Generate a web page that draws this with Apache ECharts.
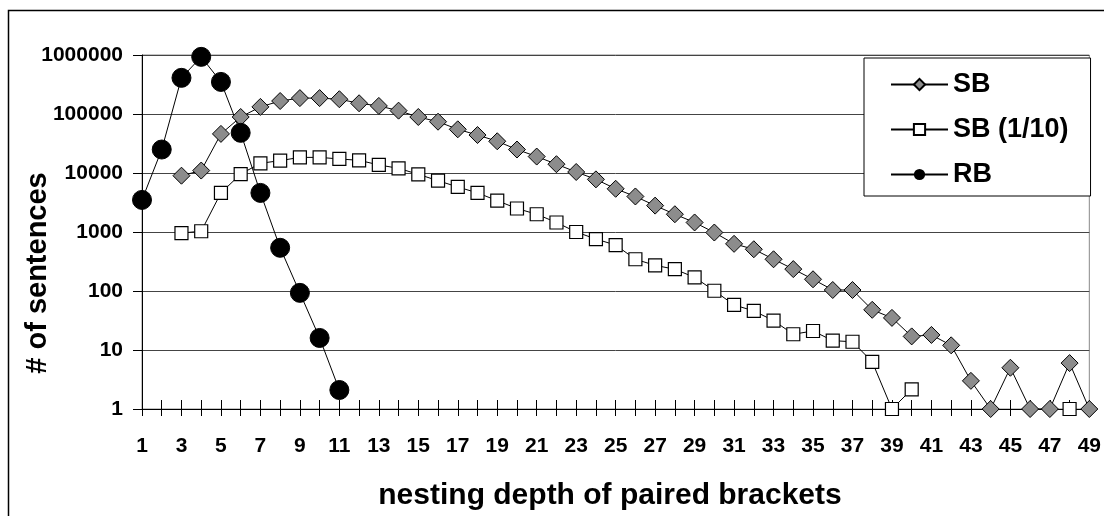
<!DOCTYPE html>
<html>
<head>
<meta charset="utf-8">
<script src="https://cdn.jsdelivr.net/npm/echarts@6/dist/echarts.min.js"></script>
<style>
  html, body { margin: 0; padding: 0; background: #fff; }
  #chart { width: 1104px; height: 516px; }
</style>
</head>
<body>
<div id="chart"></div>
<script>
// nesting depth 1..49
var depth = [];
for (var d = 1; d <= 49; d++) depth.push(String(d));

// SB, depth 1..49
var sbData = [null, null, 9000, 11000, 46000, 89000, 132000, 166000, 186000, 186000,
  178000, 152000, 137000, 114000, 89000, 74000, 55000, 44000, 34500, 25000,
  19000, 14100, 10400, 7800, 5400, 4000, 2800, 2000, 1450, 980,
  630, 510, 345, 235, 158, 104, 104, 48, 35, 17,
  18, 12, 3, 1, 5, 1, 1, 6, 1];

// SB (1/10)
var sb10Data = [null, null, 960, 1030, 4600, 9600, 14600, 16200, 18400, 18400,
  17300, 16400, 13700, 12000, 9500, 7400, 5800, 4600, 3400, 2500,
  2000, 1450, 1000, 760, 600, 345, 272, 234, 170, 101,
  58, 46, 31.5, 18.5, 21, 14.4, 13.8, 6.3, 1, 2.15,
  null, null, null, null, null, null, null, 1, null];

// RB
var rbData = [3500, 25000, 410000, 930000, 350000, 48000, 4600, 540, 93, 16, 2.1];

var yTicks = [1, 10, 100, 1000, 10000, 100000, 1000000];

var font = '"Liberation Sans", Arial, sans-serif';

var chart = echarts.init(document.getElementById('chart'));
chart.setOption({
  animation: false,
  backgroundColor: '#fff',
  textStyle: { fontFamily: font },
  grid: {
    left: 142, right: 8, top: 55, bottom: 107,
    show: true, borderColor: '#888', borderWidth: 1
  },
  legend: {
    orient: 'vertical',
    left: 864, top: 58,
    padding: [13, 22, 8, 26],
    itemGap: 18,
    itemWidth: 57,
    itemHeight: 14,
    borderColor: '#000',
    borderWidth: 1,
    backgroundColor: '#fff',
    textStyle: { fontSize: 27, fontWeight: 'bold', color: '#000', fontFamily: font, lineHeight: 26 },
    data: ['SB', 'SB (1/10)', 'RB']
  },
  xAxis: [{
    type: 'category',
    data: depth,
    boundaryGap: false,
    axisLine: { lineStyle: { color: '#000', width: 1 } },
    axisTick: { interval: 0, length: 7, lineStyle: { color: '#000' } },
    axisLabel: {
      interval: 1, margin: 27, fontSize: 21, fontWeight: 'bold', color: '#000', fontFamily: font
    },
    splitLine: { show: false }
  }, {
    type: 'category',
    data: depth,
    boundaryGap: false,
    position: 'bottom',
    axisLine: { show: false },
    axisTick: { interval: 0, inside: true, length: 9, lineStyle: { color: '#000' } },
    axisLabel: { show: false },
    splitLine: { show: false }
  }],
  yAxis: {
    type: 'log',
    logBase: 10,
    min: yTicks[0],
    max: yTicks[yTicks.length - 1],
    axisLine: { show: true, lineStyle: { color: '#000' } },
    axisTick: { show: true, length: 9, lineStyle: { color: '#000' } },
    axisLabel: {
      margin: 19, fontSize: 21, fontWeight: 'bold', color: '#000', fontFamily: font,
      formatter: function (v) { return String(Math.round(v)); }
    },
    splitLine: { show: true, lineStyle: { color: '#444', width: 1 } }
  },
  graphic: [
    {
      type: 'rect', silent: true, z: -1,
      shape: { x: 8.5, y: 10.5, width: 1120, height: 540 },
      style: { fill: 'none', stroke: '#000', lineWidth: 1.5 }
    },
    {
      type: 'text', x: 38, y: 273, rotation: Math.PI / 2,
      style: {
        text: '# of sentences', font: 'bold 29px ' + font, fill: '#000',
        align: 'center', verticalAlign: 'middle'
      }
    },
    {
      type: 'text', x: 610, y: 496,
      style: {
        text: 'nesting depth of paired brackets', font: 'bold 30px ' + font, fill: '#000',
        align: 'center', verticalAlign: 'middle'
      }
    }
  ],
  series: [
    {
      name: 'SB', type: 'line', data: sbData,
      symbol: 'diamond', symbolSize: 17, showAllSymbol: true,
      itemStyle: { color: '#8c8c8c', borderColor: '#000', borderWidth: 1 },
      lineStyle: { color: '#000', width: 1 },
      connectNulls: false
    },
    {
      name: 'SB (1/10)', type: 'line', data: sb10Data,
      symbol: 'rect', symbolSize: 13, showAllSymbol: true,
      itemStyle: { color: '#fff', borderColor: '#000', borderWidth: 1.2 },
      lineStyle: { color: '#000', width: 1 },
      connectNulls: false
    },
    {
      name: 'RB', type: 'line', data: rbData,
      symbol: 'circle', symbolSize: 19, showAllSymbol: true,
      itemStyle: { color: '#000', borderColor: '#000' },
      lineStyle: { color: '#000', width: 1 }
    }
  ]
});
</script>
</body>
</html>
